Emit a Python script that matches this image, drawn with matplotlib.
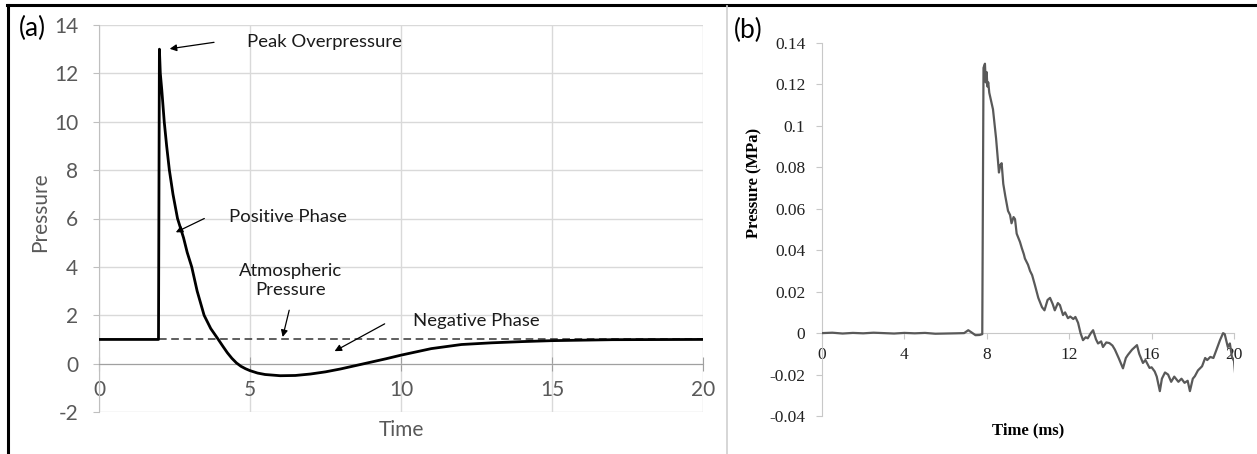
import numpy as np
import matplotlib.pyplot as plt
from matplotlib.lines import Line2D

plt.rcParams["axes.unicode_minus"] = False

# idealised blast wave (a)
ideal_t = [0, 1.97, 2.0, 2.03, 2.08, 2.16, 2.24, 2.33, 2.45, 2.6, 2.7, 2.8, 2.92,
           3.07, 3.25, 3.48, 3.7, 3.95, 4.1, 4.25, 4.4, 4.55, 4.7, 4.85, 5.0, 5.25,
           5.5, 6.0, 6.5, 7.0, 7.5, 8.0, 8.5, 9.0, 9.5, 10, 11, 12, 13, 14, 15, 17, 20]
ideal_p = [1, 1, 13, 12.0, 11.3, 10, 9.0, 8, 7.0, 6, 5.6, 5.2, 4.6,
           4, 3.0, 2, 1.45, 1, 0.72, 0.45, 0.22, 0.03, -0.11, -0.21, -0.29, -0.39,
           -0.45, -0.5, -0.49, -0.43, -0.34, -0.22, -0.08, 0.06, 0.2, 0.35, 0.62, 0.79,
           0.86, 0.91, 0.95, 0.99, 1.0]
atm_t = [2, 20]
atm_p = [1, 1]

# measured pressure trace (b)
meas_t = [0, 0.5, 1.0, 1.5, 2.0, 2.5, 3.0, 3.5, 4.0, 4.5, 5.0, 5.5, 6.0, 6.5, 6.9,
          7.1, 7.25, 7.45, 7.65, 7.78, 7.84, 7.91, 7.95, 7.99, 8.03, 8.07, 8.12,
          8.3, 8.45, 8.59, 8.65, 8.72, 8.8, 8.9, 9.03, 9.13, 9.2, 9.3, 9.37, 9.45,
          9.61, 9.7, 9.8, 9.85, 10.0, 10.1, 10.2, 10.34, 10.5, 10.68, 10.8, 10.95,
          11.07, 11.2, 11.3, 11.45, 11.55, 11.7, 11.8, 11.94, 12.05, 12.2, 12.3,
          12.43, 12.55, 12.67, 12.8, 12.9, 13.05, 13.16, 13.3, 13.4, 13.55, 13.64,
          13.8, 13.95, 14.1, 14.22, 14.4, 14.61, 14.75, 14.85, 15.05, 15.29, 15.4,
          15.58, 15.7, 15.9, 16.0, 16.15, 16.25, 16.4, 16.5, 16.65, 16.8, 16.95,
          17.1, 17.3, 17.45, 17.6, 17.75, 17.86, 18.0, 18.1, 18.25, 18.45, 18.6,
          18.7, 18.85, 19.0, 19.15, 19.32, 19.47, 19.55, 19.7, 19.8, 19.9, 20.0, 20.05]
meas_p = [0, 0.0002, -0.0002, 0.0001, -0.0001, 0.0002, 0, -0.0002, 0.0001, -0.0001,
          0.0001, -0.0003, -0.0002, -0.0001, 0.0,
          0.0014, 0.0004, -0.001, -0.0009, -0.0005, 0.128, 0.130, 0.121, 0.126, 0.119,
          0.121, 0.116,
          0.108, 0.094, 0.0775, 0.081, 0.082, 0.072, 0.066, 0.059, 0.057, 0.053, 0.056,
          0.055, 0.048,
          0.044, 0.041, 0.038, 0.036, 0.033, 0.030, 0.028, 0.023, 0.017, 0.0125, 0.011,
          0.016,
          0.017, 0.014, 0.011, 0.0145, 0.0135, 0.0087, 0.010, 0.0072, 0.008, 0.0068,
          0.0078,
          0.005, 0.0, -0.0034, -0.002, -0.0025, 0.0, 0.0014, -0.003, -0.005, -0.004,
          -0.0067,
          -0.0045, -0.0048, -0.006, -0.008, -0.012, -0.017, -0.012, -0.0105, -0.008,
          -0.0058, -0.010,
          -0.0144, -0.013, -0.0168, -0.0165, -0.0185, -0.021, -0.028, -0.022, -0.019,
          -0.020, -0.0235,
          -0.021, -0.0235, -0.022, -0.024, -0.023, -0.028, -0.022, -0.0208, -0.018,
          -0.016, -0.012,
          -0.013, -0.0115, -0.012, -0.008, -0.0034, 0.0, -0.0005, -0.0067, -0.005,
          -0.0115, -0.0135, -0.019]

W, H = 1257, 454
fig = plt.figure(figsize=(W / 100, H / 100), dpi=100)
sans = "Lato"
serif = "Liberation Serif"
grey_txt = "#595959"
note_c = "#1a1a1a"

def px_axes(x0, y0, x1, y1):
    return fig.add_axes([x0 / W, 1 - y1 / H, (x1 - x0) / W, (y1 - y0) / H])

# ---- panel (a)
ax = px_axes(99, 25, 703, 412)
ax.set_xlim(0, 20)
ax.set_ylim(-2, 14)
ax.set_xticks([0, 5, 10, 15, 20])
ax.set_yticks(range(-2, 15, 2))
ax.grid(True, color="#d9d9d9", lw=1.0)
ax.set_axisbelow(True)
for s in ["top", "right"]:
    ax.spines[s].set_visible(False)
ax.spines["left"].set_color("#bfbfbf")
ax.spines["bottom"].set_position(("data", 0))
ax.spines["bottom"].set_color("#a0a0a0")
ax.tick_params(axis="x", direction="inout", length=10, color="#a0a0a0", pad=7,
               labelsize=15, labelcolor=grey_txt)
ax.tick_params(axis="y", direction="out", length=4, color="#bfbfbf", pad=11,
               labelsize=15, labelcolor=grey_txt)
for lab in ax.get_xticklabels() + ax.get_yticklabels():
    lab.set_family(sans)

ax.plot(ideal_t, ideal_p, color="black", lw=2.0, solid_joinstyle="round", zorder=3)
ax.plot(atm_t, atm_p, color="#333333", lw=1.1, ls=(0, (5, 3)), zorder=2)

fig.text(401 / W, 1 - 430 / H, "Time", ha="center", va="center", fontsize=15,
         color=grey_txt, family=sans)
fig.text(40 / W, 1 - 212 / H, "Pressure", ha="center", va="center", rotation=90,
         fontsize=15, color=grey_txt, family=sans)
fig.text(32 / W, 1 - 28 / H, "(a)", ha="center", va="center", fontsize=19,
         color="black", family=sans)

arrow = dict(arrowstyle="-|>", color="black", lw=0.9, mutation_scale=10)
fs = 13.3
ax.annotate("", xy=(2.25, 13.0), xytext=(3.9, 13.3), arrowprops=arrow)
ax.text(4.9, 13.3, "Peak Overpressure", ha="left", va="center", fontsize=fs,
        color=note_c, family=sans)
ax.annotate("", xy=(2.46, 5.38), xytext=(3.57, 6.05), arrowprops=arrow)
ax.text(4.32, 6.05, "Positive Phase", ha="left", va="center", fontsize=fs,
        color=note_c, family=sans)
ax.annotate("", xy=(6.06, 0.99), xytext=(6.32, 2.32), arrowprops=arrow)
ax.text(6.34, 3.45, "Atmospheric\nPressure", ha="center", va="center", fontsize=fs,
        color=note_c, family=sans, linespacing=1.25)
ax.annotate("", xy=(7.72, 0.46), xytext=(9.54, 1.70), arrowprops=arrow)
ax.text(10.4, 1.75, "Negative Phase", ha="left", va="center", fontsize=fs,
        color=note_c, family=sans)

# ---- panel (b)
bx = px_axes(822, 43, 1234, 416)
bx.set_xlim(0, 20)
bx.set_ylim(-0.04, 0.14)
bx.set_xticks([0, 4, 8, 12, 16, 20])
bx.set_yticks([-0.04, -0.02, 0, 0.02, 0.04, 0.06, 0.08, 0.1, 0.12, 0.14])
bx.set_yticklabels(["-0.04", "-0.02", "0", "0.02", "0.04", "0.06", "0.08", "0.1",
                    "0.12", "0.14"])
for s in ["top", "right"]:
    bx.spines[s].set_visible(False)
bx.spines["left"].set_color("#c8c8c8")
bx.spines["bottom"].set_position(("data", 0))
bx.spines["bottom"].set_color("#c8c8c8")
bx.tick_params(axis="x", direction="out", length=4, color="#c8c8c8", pad=6,
               labelsize=12.5, labelcolor="#222222")
bx.tick_params(axis="y", direction="out", length=4, color="#c8c8c8", pad=8,
               labelsize=12.5, labelcolor="#222222")
for lab in bx.get_xticklabels() + bx.get_yticklabels():
    lab.set_family(serif)

bx.plot(meas_t, meas_p, color="#595959", lw=1.6, zorder=3)

fig.text(1028 / W, 1 - 430 / H, "Time (ms)", ha="center", va="center", fontsize=12,
         color="black", family=serif, weight="bold")
fig.text(754 / W, 1 - 183 / H, "Pressure (MPa)", ha="center", va="center",
         rotation=90, fontsize=12, color="black", family=serif, weight="bold")
fig.text(748 / W, 1 - 30 / H, "(b)", ha="center", va="center", fontsize=19,
         color="black", family=sans)

# frame lines
fig.add_artist(Line2D([7 / W, 1], [1 - 5 / H, 1 - 5 / H], color="black", lw=2.2))
fig.add_artist(Line2D([8 / W, 8 / W], [0, 1 - 5 / H], color="black", lw=2.2))
fig.add_artist(Line2D([727 / W, 727 / W], [0, 1 - 6 / H], color="#cfcfcf", lw=1.2))

fig.savefig("out.png", dpi=100)
